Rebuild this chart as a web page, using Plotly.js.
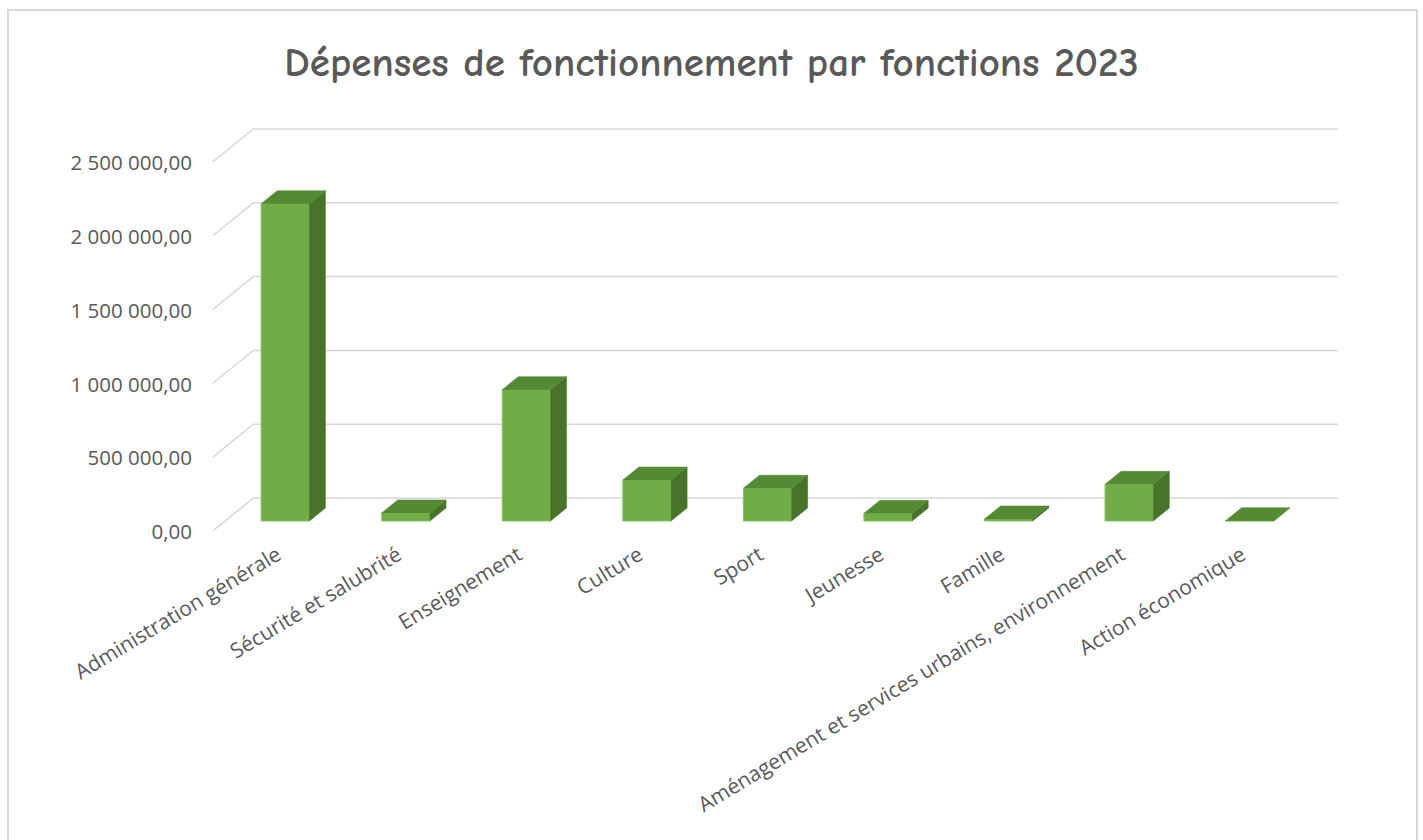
<!DOCTYPE html>
<html><head><meta charset="utf-8">
<script src="https://cdn.plot.ly/plotly-3.0.1.min.js"></script>
<style>
html,body{margin:0;padding:0;background:#fff;overflow:hidden}
#frame{position:absolute;left:7px;top:9px;width:1411px;height:900px;border:2px solid #D9D9D9;box-sizing:border-box}
#chart{position:absolute;left:0;top:0;width:1423px;height:840px}
</style></head><body>
<div id="frame"></div>
<div id="chart"></div>
<script>
// ---- data ----
const categories = [
  "Administration générale",
  "Sécurité et salubrité",
  "Enseignement",
  "Culture",
  "Sport",
  "Jeunesse",
  "Famille",
  "Aménagement et services urbains, environnement",
  "Action économique"
];
const values = [2150000, 55000, 890000, 278000, 222000, 52000, 14000, 249000, 2000];
const yTicks = [0, 500000, 1000000, 1500000, 2000000, 2500000];
const chartTitle = "Dépenses de fonctionnement par fonctions 2023";

// ---- geometry (pixels) ----
const W = 1423, H = 840;
const plotL = 213, plotR = 1338, plotT = 120, plotB = 535;
const catPx = 120.556;          // px per category
const midLeftPx = 225;          // px of x = -0.5 on bar front plane
const valPx = 73.8 / 500000;    // px per unit value
const midZeroPx = 521;          // px of 0 on bar front plane
const depthX = 42, depthY = 34; // full depth offset (px)
const barFront = 11 / 34, barBack = 24 / 34;
const barW = 0.4;

const x0 = -0.5 - (midLeftPx - plotL) / catPx;
const x1 = x0 + (plotR - plotL) / catPx;
const ym0 = -(plotB - midZeroPx) / valPx;
const ym1 = ym0 + (plotB - plotT) / valPx;
const frontZeroPx = midZeroPx + barFront * depthY;
const yf0 = -(plotB - frontZeroPx) / valPx;
const yf1 = yf0 + (plotB - plotT) / valPx;

const dxFront = -barFront * depthX / catPx;
const dxWall = (1 - barFront) * depthX / catPx;
const dyWallF = depthY / valPx;
const dxB = (barBack - barFront) * depthX / catPx;
const dyB = (barBack - barFront) * depthY / valPx;
const n = categories.length;
const idx = categories.map((_, i) => i);

// gridlines (front-plane coordinates)
const gx = [], gy = [];
yTicks.forEach(t => {
  gx.push(-0.5 + dxFront, -0.5 + dxWall, (n - 0.5) + dxWall, null);
  gy.push(t, t + dyWallF, t + dyWallF, null);
});

// side and top faces (bar-front-plane coordinates)
const sx = [], sy = [], tx = [], ty = [];
values.forEach((v, i) => {
  const r = i + barW / 2, l = i - barW / 2;
  sx.push(r, r + dxB, r + dxB, r, r, null);
  sy.push(0, dyB, v + dyB, v, 0, null);
  tx.push(l, r, r + dxB, l + dxB, l, null);
  ty.push(v, v, v + dyB, v + dyB, v, null);
});

const traces = [
  {type: 'scatter', mode: 'lines', x: gx, y: gy, xaxis: 'x', yaxis: 'y',
   line: {color: '#D9D9D9', width: 1.5}, hoverinfo: 'skip'},
  {type: 'bar', x: idx, y: values, width: barW, xaxis: 'x', yaxis: 'y2',
   marker: {color: '#70AD47', line: {color: '#86C25E', width: 1}}},
  {type: 'scatter', mode: 'lines', x: sx, y: sy, xaxis: 'x', yaxis: 'y2',
   fill: 'toself', fillcolor: '#47742A', line: {color: '#47742A', width: 0.5}},
  {type: 'scatter', mode: 'lines', x: tx, y: ty, xaxis: 'x', yaxis: 'y2',
   fill: 'toself', fillcolor: '#558A35', line: {color: '#558A35', width: 0.5}}
];

const layout = {
  width: W, height: H,
  margin: {l: plotL, r: W - plotR, t: plotT, b: H - plotB, pad: 0},
  paper_bgcolor: 'rgba(0,0,0,0)', plot_bgcolor: 'rgba(0,0,0,0)',
  showlegend: false,
  separators: ', ',
  bargap: 0,
  title: {text: chartTitle, x: 0.5, xref: 'container', xanchor: 'center',
          y: 1 - 62 / H, yref: 'container', yanchor: 'middle',
          font: {family: '"Comic Sans MS", "Comic Neue", "DejaVu Sans Condensed", "DejaVu Sans", sans-serif',
                 size: 41, color: '#595959', weight: 700}},
  xaxis: {range: [x0, x1], tickvals: idx, ticktext: categories, tickangle: -31,
          ticklabelshift: -8, ticklabelstandoff: 3,
          showgrid: false, zeroline: false, showline: false, ticks: '',
          tickfont: {family: '"Open Sans", sans-serif', size: 21, color: '#595959'}},
  yaxis: {range: [yf0, yf1], tickvals: yTicks, tickformat: ',.2f',
          showgrid: false, zeroline: false, showline: false, ticks: '',
          ticklabelstandoff: 20,
          tickfont: {family: '"Open Sans", sans-serif', size: 20.5, color: '#595959'}},
  yaxis2: {range: [ym0, ym1], overlaying: 'y', anchor: 'x', visible: false,
           showgrid: false, zeroline: false}
};

Plotly.newPlot('chart', traces, layout, {staticPlot: true, displayModeBar: false});
</script>
</body></html>
